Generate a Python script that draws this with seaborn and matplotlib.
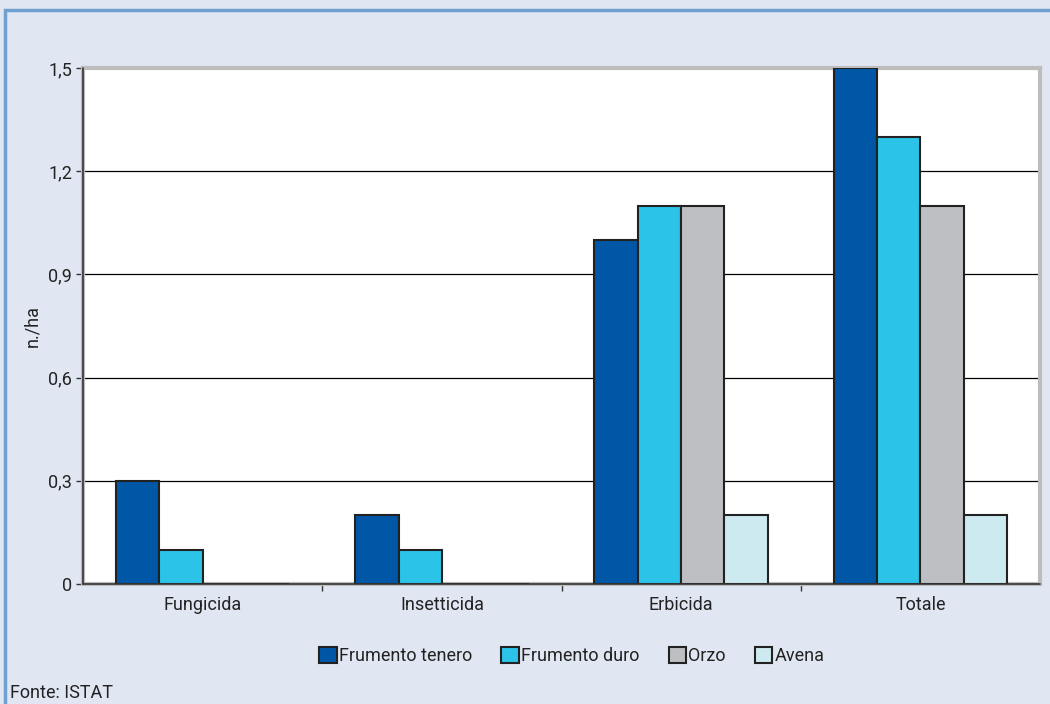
import matplotlib
matplotlib.use("Agg")
import matplotlib.pyplot as plt
from matplotlib.patches import Rectangle
from matplotlib.ticker import FixedLocator
import seaborn as sns
import pandas as pd

# Numero medio di trattamenti per ettaro, per tipo di prodotto e coltura
categories = ["Fungicida", "Insetticida", "Erbicida", "Totale"]
crops = ["Frumento tenero", "Frumento duro", "Orzo", "Avena"]
frumento_tenero = [0.3, 0.2, 1.0, 1.5]
frumento_duro = [0.1, 0.1, 1.1, 1.3]
orzo = [0.0, 0.0, 1.1, 1.1]
avena = [0.0, 0.0, 0.2, 0.2]
y_ticks = [0, 0.3, 0.6, 0.9, 1.2, 1.5]
y_tick_labels = ["0", "0,3", "0,6", "0,9", "1,2", "1,5"]

colors = ["#0057A6", "#2BC4E8", "#BEBFC2", "#CDEAF0"]
bg = "#E1E7F2"
txt = "#222222"
fs = 13

rows = []
for crop, vals in zip(crops, [frumento_tenero, frumento_duro, orzo, avena]):
    for cat, v in zip(categories, vals):
        rows.append({"categoria": cat, "coltura": crop, "valore": v})
df = pd.DataFrame(rows)

sns.set_theme(style="white")
plt.rcParams["font.family"] = ["Liberation Sans Narrow", "Roboto", "DejaVu Sans"]

fig = plt.figure(figsize=(10.5, 7.04), dpi=100, facecolor=bg)
ax = fig.add_axes([83 / 1050, 1 - 584 / 704, (1040 - 83) / 1050, (584 - 68) / 704])
ax.set_facecolor("white")

sns.barplot(data=df, x="categoria", y="valore", hue="coltura",
            order=categories, hue_order=crops, palette=colors,
            width=0.725, edgecolor="#222222", linewidth=1.5,
            saturation=1, errorbar=None, ax=ax, zorder=3)

ax.set_ylim(0, 1.5)
ax.set_xlim(-0.5, len(categories) - 0.5)
ax.set_yticks(y_ticks)
ax.set_yticklabels(y_tick_labels, fontsize=fs, color=txt)
ax.yaxis.grid(True, color="black", linewidth=0.9, zorder=1)
ax.set_axisbelow(True)

ax.set_xlabel("")
ax.set_ylabel("n./ha", fontsize=fs, color=txt, labelpad=5)
ax.tick_params(axis="x", which="major", length=0, labelsize=fs,
               labelcolor=txt, pad=9)
ax.xaxis.set_minor_locator(FixedLocator([0.5, 1.5, 2.5]))
ax.tick_params(axis="x", which="minor", bottom=True, length=5,
               width=1, color="#333333", direction="out")
ax.tick_params(axis="y", left=True, length=5, width=1, color="#333333",
               direction="out", pad=3)

for side in ["top", "right", "bottom", "left"]:
    ax.spines[side].set_color("#BDBDBD")
    ax.spines[side].set_linewidth(3)
ax.axvline(-0.5, color="#333333", linewidth=1.2, zorder=4, clip_on=False)
ax.axhline(0, color="#333333", linewidth=1.2, zorder=4, clip_on=False)

handles, labels = ax.get_legend_handles_labels()
ax.legend(handles, labels, loc="center", bbox_to_anchor=(572 / 1050, 1 - 656 / 704),
          bbox_transform=fig.transFigure, ncol=4, frameon=False,
          fontsize=fs, handlelength=0.95, handleheight=0.95,
          handletextpad=0.15, columnspacing=1.6, labelcolor=txt)

# cornice esterna
fig.patches.append(Rectangle((5 / 1050, -0.05), 1.2, (704 - 10) / 704 + 0.05,
                             transform=fig.transFigure, fill=False,
                             edgecolor="#6FA0D0", linewidth=2.5, zorder=0))

fig.text(10 / 1050, 1 - 693 / 704, "Fonte: ISTAT", fontsize=fs,
         color=txt, va="center", ha="left")

fig.savefig("out.png", dpi=100, facecolor=bg)
